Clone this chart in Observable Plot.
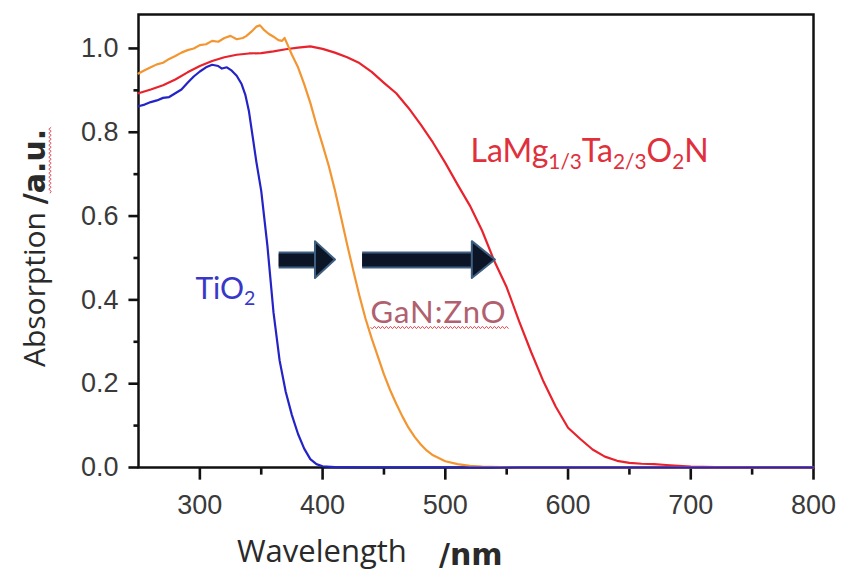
<!DOCTYPE html>
<html>
<head>
<meta charset="utf-8">
<script src="https://cdn.jsdelivr.net/npm/d3@7"></script>
<script src="https://cdn.jsdelivr.net/npm/@observablehq/plot@0.6"></script>
<style>
  html, body { margin: 0; padding: 0; background: #fff; }
  #chart svg { display: block; }
</style>
</head>
<body>
<div id="chart"></div>
<script>
// ---------- data ----------
// Tick labels
const xTicks = [300, 400, 500, 600, 700, 800];
const xMinorTicks = [350, 450, 550, 650, 750];
const yTicks = [0, 0.2, 0.4, 0.6, 0.8, 1.0];
const yMinorTicks = [0.1, 0.3, 0.5, 0.7, 0.9];

// Series names
const seriesNames = ["LaMg1/3Ta2/3O2N", "GaN:ZnO", "TiO2"];

// [wavelength nm, absorption a.u.]
const tio2 = [
  [250,0.862],[255,0.866],[260,0.872],[265,0.876],[270,0.882],[275,0.884],[280,0.893],
  [285,0.902],[290,0.918],[295,0.933],[300,0.945],[305,0.955],[310,0.961],[315,0.958],
  [318,0.952],[322,0.955],[326,0.947],[330,0.935],[334,0.915],[337,0.89],[340,0.85],
  [343,0.79],[346,0.73],[350,0.66],[355,0.53],[360,0.37],[365,0.255],[370,0.18],
  [375,0.125],[380,0.08],[385,0.045],[390,0.02],[395,0.008],[400,0.003],[410,0.001],
  [430,0],[500,0],[600,0],[700,0],[800,0]
];

const ganzno = [
  [250,0.94],[255,0.948],[260,0.955],[265,0.962],[270,0.966],[275,0.975],[280,0.982],
  [285,0.99],[290,0.996],[295,1.0],[300,1.008],[305,1.01],[310,1.018],[315,1.016],
  [320,1.025],[325,1.03],[330,1.022],[335,1.025],[338,1.03],[342,1.04],[346,1.052],
  [349,1.055],[352,1.045],[356,1.035],[360,1.028],[364,1.02],[367,1.018],[369,1.025],
  [371,1.012],[375,0.985],[380,0.955],[385,0.915],[390,0.87],[395,0.818],[400,0.77],
  [405,0.72],[410,0.662],[415,0.598],[420,0.532],[425,0.47],[430,0.41],[435,0.355],
  [440,0.308],[445,0.265],[450,0.222],[455,0.185],[460,0.152],[465,0.122],[470,0.095],
  [475,0.073],[480,0.055],[485,0.04],[490,0.029],[500,0.015],[510,0.008],[520,0.004],
  [530,0.002],[545,0.001],[560,0],[650,0],[800,0]
];

const lamgtaon = [
  [250,0.893],[260,0.902],[270,0.912],[280,0.926],[290,0.943],[300,0.958],[310,0.97],
  [320,0.979],[330,0.985],[340,0.988],[350,0.989],[360,0.993],[370,0.998],[380,1.002],
  [390,1.005],[400,0.999],[410,0.99],[420,0.979],[430,0.965],[440,0.944],[450,0.918],
  [460,0.893],[470,0.858],[480,0.818],[490,0.775],[500,0.727],[510,0.675],[520,0.625],
  [530,0.565],[540,0.492],[550,0.43],[560,0.35],[570,0.275],[580,0.205],[590,0.145],
  [600,0.095],[610,0.068],[620,0.043],[630,0.026],[640,0.016],[650,0.011],[660,0.009],
  [670,0.008],[680,0.006],[690,0.004],[700,0.002],[720,0.001],[740,0.001],[760,0],[800,0]
];

// Annotation labels (position in data coordinates)
const labelText = ["LaMg_{1/3}Ta_{2/3}O_{2}N", "GaN:ZnO", "TiO_{2}"];
const labelWl   = [520.5, 439, 296.4];
const labelAbs  = [0.728, 0.346, 0.403];

// Shift arrows (data coordinates): tail, head start, tip, level, head half-height
const arrowTail  = [364.2, 432.2];
const arrowHead  = [394.2, 522.0];
const arrowTip   = [410.5, 540.8];
const arrowLevel = [0.495, 0.495];
const arrowHalf  = [0.044, 0.044];

// ---------- styles ----------
const seriesColors = ["#e8232d", "#f39531", "#2323c8"];
const labelColors = ["#e0303c", "#b0606e", "#3838c8"];
const labelSizes = [32, 31, 30];
const labelSpacing = [0, 1, 0];
// tick lengths expressed in data units (outside the frame)
const xMajorLen = 0.029, xMinorLen = 0.017;   // absorption units
const yMajorLen = 8.2, yMinorLen = 4.1;        // nm

// ---------- build tables ----------
const seriesPoints = [lamgtaon, ganzno, tio2];
const lines = seriesNames.flatMap((name, i) =>
  seriesPoints[i].map(([wl, a]) => ({series: name, wl, a})));

const arrows = arrowTail.map((t, i) => ({
  id: i, tail: t, headStart: arrowHead[i], tip: arrowTip[i], y: arrowLevel[i], half: arrowHalf[i]
}));
const heads = arrows.flatMap(a => [
  {id: a.id, x: a.headStart, lo: a.y - a.half, hi: a.y + a.half},
  {id: a.id, x: a.tip, lo: a.y, hi: a.y}
]);

const labelMarks = labelText.map((t, i) =>
  Plot.text([{t, wl: labelWl[i], a: labelAbs[i]}], {
    x: "wl", y: "a", text: "t",
    textAnchor: "start", lineAnchor: "bottom",
    fill: labelColors[i], fontSize: labelSizes[i],
    fontFamily: "Lato, 'Open Sans', sans-serif"
  }));

const xMin = 250, yMin = 0;
const tickStyle = {stroke: "#111", strokeWidth: 2.6};
const axisText = {tickSize: 0, fill: "#3a3a3a", color: "#3a3a3a", fontSize: 27, label: null};

const svg = Plot.plot({
  width: 843,
  height: 571,
  marginLeft: 138,
  marginRight: 30,
  marginTop: 14,
  marginBottom: 104,
  style: {fontFamily: "'Liberation Sans', Arial, sans-serif", background: "#fff", overflow: "visible"},
  x: {domain: [250, 800], label: null, axis: null},
  y: {domain: [0, 1.081], label: null, axis: null},
  color: {domain: seriesNames, range: seriesColors},
  marks: [
    // tick labels
    Plot.axisX(xTicks, {...axisText, tickPadding: 27}),
    Plot.axisY(yTicks, {...axisText, tickPadding: 20, tickFormat: d3.format(".1f")}),
    // tick marks (outward)
    Plot.link(xTicks, {x1: d => d, x2: d => d, y1: yMin, y2: yMin - xMajorLen, ...tickStyle}),
    Plot.link(xMinorTicks, {x1: d => d, x2: d => d, y1: yMin, y2: yMin - xMinorLen, ...tickStyle}),
    Plot.link(yTicks, {y1: d => d, y2: d => d, x1: xMin, x2: xMin - yMajorLen, ...tickStyle}),
    Plot.link(yMinorTicks, {y1: d => d, y2: d => d, x1: xMin, x2: xMin - yMinorLen, ...tickStyle}),
    Plot.frame({stroke: "#111", strokeWidth: 2.5}),
    // spectra
    Plot.line(lines, {x: "wl", y: "a", z: "series", stroke: "series", strokeWidth: 2.2}),
    // shift arrows
    Plot.link(arrows, {x1: "tail", x2: "headStart", y1: "y", y2: "y", stroke: "#3f5f82", strokeWidth: 17}),
    Plot.link(arrows, {x1: "tail", x2: "headStart", y1: "y", y2: "y", stroke: "#0b1526", strokeWidth: 13}),
    Plot.areaY(heads, {x: "x", y1: "lo", y2: "hi", z: "id", fill: "#0b1526", stroke: "#3f5f82", strokeWidth: 2}),
    ...labelMarks
  ]
});

document.getElementById("chart").appendChild(svg);
const s = d3.select(svg);

// squiggle (spell-check style) helper
function squiggle(parent, transform, x0, x1, y) {
  let d = `M${x0},${y}`;
  for (let x = x0, k = 0; x < x1; x += 2, k++) d += `L${x + 2},${y + (k % 2 ? -1.2 : 1.2)}`;
  parent.append("path").attr("transform", transform).attr("d", d)
    .attr("fill", "none").attr("stroke", "#e0505a").attr("stroke-width", 1);
}

// ---------- subscripts in annotation text ----------
s.selectAll("text").each(function () {
  const t = this.textContent;
  if (!t.includes("_{")) return;
  const fs = parseFloat(getComputedStyle(this).fontSize);
  const shift = fs * 0.22;
  const parts = t.split(/_\{([^}]*)\}/);
  this.textContent = "";
  let shifted = false;
  parts.forEach((p, i) => {
    if (!p) return;
    const ts = d3.select(this).append("tspan").text(p);
    if (i % 2 === 1) {
      ts.attr("font-size", fs * 0.65).attr("dy", shifted ? 0 : shift);
      shifted = true;
    } else if (shifted) {
      ts.attr("dy", -shift);
      shifted = false;
    }
  });
});
s.selectAll("text").filter(function () { return this.textContent === "GaN:ZnO"; })
  .attr("letter-spacing", labelSpacing[1])
  .each(function () {
    const bb = this.getBBox();
    squiggle(d3.select(this.parentNode), this.getAttribute("transform"), bb.x, bb.x + bb.width, 5);
  });

// ---------- axis titles ----------
const yTitleG = s.append("g").attr("transform", "translate(45,367) rotate(-90)");
const yTitle = yTitleG.append("text").attr("text-anchor", "start").attr("fill", "#2a2a2a");
yTitle.append("tspan").attr("font-family", "'Open Sans', sans-serif").attr("font-size", 30).text("Absorption ");
yTitle.append("tspan").attr("font-family", "'DejaVu Sans', sans-serif").attr("font-weight", "bold").attr("font-size", 30).text("/a.u.");
{
  const node = yTitle.node();
  const n = node.getNumberOfChars();
  const start = node.getStartPositionOfChar(n - 4).x;
  const end = node.getEndPositionOfChar(n - 1).x;
  squiggle(yTitleG, null, start, end, 5);
}

const xTitle = s.append("text").attr("text-anchor", "start").attr("fill", "#2a2a2a");
xTitle.append("tspan").attr("x", 237).attr("y", 562).attr("font-family", "'Open Sans', sans-serif").attr("font-size", 31).text("Wavelength");
xTitle.append("tspan").attr("x", 439).attr("y", 565).attr("font-family", "'DejaVu Sans', sans-serif").attr("font-weight", "bold").attr("font-size", 30).text("/nm");
</script>
</body>
</html>
